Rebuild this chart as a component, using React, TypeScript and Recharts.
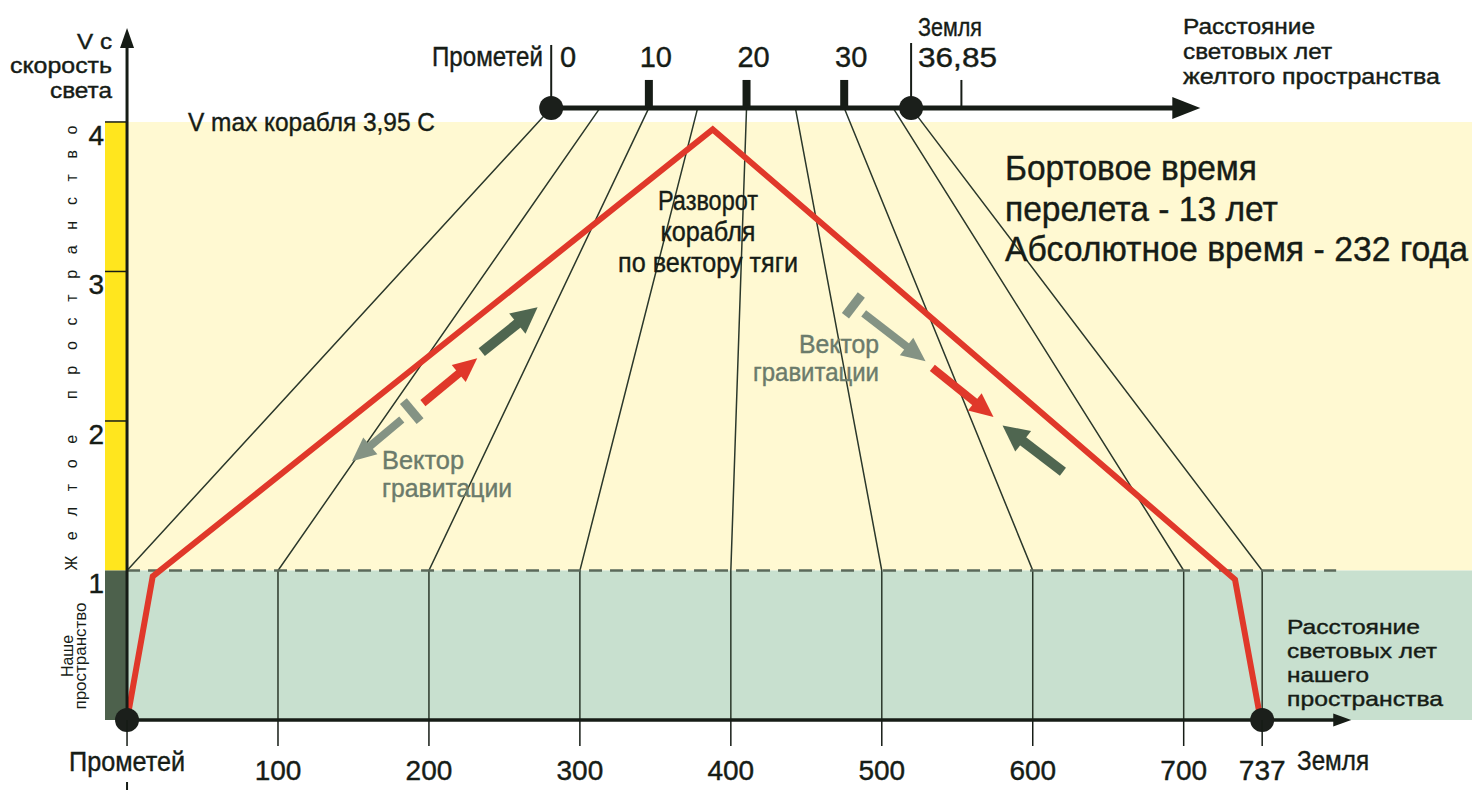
import { ComposedChart, Line, XAxis, YAxis, ReferenceArea, ReferenceLine, ReferenceDot } from 'recharts';

// bottom scale: light-years of our space (the diagram is not to scale near Earth)
const X_TICKS = [0, 100, 200, 300, 400, 500, 600, 700, 752];
const X_TICK_LABELS = ['Прометей', '100', '200', '300', '400', '500', '600', '700', '737'];
const Y_TICKS = [1, 2, 3, 4];

// top scale: light-years of yellow space
const TOP_TICKS = [10, 20, 30];
const TOP_MINOR = [42];
const TOP_FAN = [0, 5, 10, 15, 20, 25, 30, 35, 36.85];
const BOTTOM_FAN = [0, 100, 200, 300, 400, 500, 600, 700, 752];

// ship speed (in c) along the route
const SHIP_X = [0, 17, 388, 734, 751];
const SHIP_V = [0, 0.96, 3.95, 0.94, 0];

// vectors drawn on the diagram: [x1, v1, x2, v2]
const THRUST_VECTORS = [[196, 2.12, 232, 2.42], [533.5, 2.355, 574, 2.027]];
const FIELD_VECTORS = [[235, 2.46, 272, 2.76], [620, 1.66, 580, 1.97]];
const GRAVITY_VECTORS = [[182, 2.01, 149, 1.73], [488, 2.72, 529, 2.4]];

const X_DOMAIN: [number, number] = [-14.6, 891];
const Y_DOMAIN: [number, number] = [0, 4.682];
const TOP_Y = 4.094;
const TOP_X0 = 281;
const TOP_K = 6.47;
const topX = (t: number) => TOP_X0 + TOP_K * t;

const INK = '#161c16';
const VEC = '#6b7b6b';
const FONT = '"Liberation Sans", Arial, Helvetica, sans-serif';

function arrow(color: string, width: number, head: number, headW: number, bar = 0) {
  return (p: any) => {
    const x1 = +p.x1, y1 = +p.y1, x2 = +p.x2, y2 = +p.y2;
    const len = Math.hypot(x2 - x1, y2 - y1) || 1;
    const ux = (x2 - x1) / len, uy = (y2 - y1) / len;
    const nx = -uy, ny = ux;
    const bx = x2 - ux * head, by = y2 - uy * head;
    const cx = x1 - ux * bar, cy = y1 - uy * bar;
    return (
      <g>
        <line x1={x1} y1={y1} x2={bx + ux} y2={by + uy} stroke={color} strokeWidth={width} />
        <polygon
          points={`${x2},${y2} ${bx + (nx * headW) / 2},${by + (ny * headW) / 2} ${bx - (nx * headW) / 2},${by - (ny * headW) / 2}`}
          fill={color}
        />
        {bar > 0 && (
          <line x1={cx + nx * 13} y1={cy + ny * 13} x2={cx - nx * 13} y2={cy - ny * 13} stroke={color} strokeWidth={9} />
        )}
      </g>
    );
  };
}

function BottomTick(p: any) {
  const i = X_TICKS.indexOf(p.payload.value);
  const word = i === 0;
  const { x, y } = p;
  return (
    <g>
      <line x1={x} y1={y} x2={x} y2={y + 26} stroke={INK} strokeWidth={1.5} />
      {word && <line x1={x} y1={y + 62} x2={x} y2={y + 70} stroke={INK} strokeWidth={2} />}
      <text
        x={x}
        y={y + (word ? 51 : 60)}
        textAnchor="middle"
        fontSize={28}
        fill={INK}
        stroke={INK}
        strokeWidth={0.4}
        fontFamily={FONT}
        textLength={word ? 116 : undefined}
        lengthAdjust={word ? 'spacingAndGlyphs' : undefined}
      >
        {X_TICK_LABELS[i]}
      </text>
    </g>
  );
}

function LeftTick(p: any) {
  return (
    <text x={p.x - 1} y={p.y + 23} textAnchor="end" fontSize={28} fill={INK} stroke={INK} strokeWidth={0.4} fontFamily={FONT}>
      {p.payload.value}
    </text>
  );
}

function T({ x, y, s, w, anchor = 'start', fill = INK, children }: any) {
  return (
    <text
      x={x}
      y={y}
      fontSize={s}
      textAnchor={anchor}
      fill={fill}
      stroke={fill}
      strokeWidth={0.4}
      fontFamily={FONT}
      textLength={w}
      lengthAdjust={w ? 'spacingAndGlyphs' : undefined}
    >
      {children}
    </text>
  );
}

export default function App() {
  const fans = TOP_FAN.map((t, i) => [
    { x: topX(t), y: TOP_Y },
    { x: BOTTOM_FAN[i], y: 1 },
    { x: BOTTOM_FAN[i], y: 0 },
  ]);
  const ship = SHIP_X.map((x, i) => ({ x, y: SHIP_V[i] }));
  const seg = (v: number[]) => [{ x: v[0], y: v[1] }, { x: v[2], y: v[3] }];

  return (
    <div style={{ position: 'absolute', left: 0, top: 0, width: 1484, height: 790, background: '#fff' }}>
      <ComposedChart width={1484} height={790} margin={{ top: 20, right: 12, bottom: 0, left: 0 }}>
        <XAxis
          type="number"
          dataKey="x"
          domain={X_DOMAIN}
          ticks={X_TICKS}
          interval={0}
          allowDataOverflow
          height={70}
          axisLine={false}
          tickLine={false}
          tickSize={0}
          tickMargin={0}
          tick={(p: any) => <BottomTick {...p} />}
        />
        <YAxis
          type="number"
          dataKey="y"
          domain={Y_DOMAIN}
          ticks={Y_TICKS}
          interval={0}
          allowDataOverflow
          width={105}
          axisLine={false}
          tickLine={false}
          tickSize={0}
          tickMargin={0}
          tick={(p: any) => <LeftTick {...p} />}
        />

        {/* spaces */}
        <ReferenceArea x1={0} x2={X_DOMAIN[1]} y1={1} y2={4} fill="#fff9d2" fillOpacity={1} stroke="none" />
        <ReferenceArea x1={0} x2={X_DOMAIN[1]} y1={0} y2={1} fill="#c8e0cf" fillOpacity={1} stroke="none" />
        <ReferenceArea x1={X_DOMAIN[0]} x2={0} y1={1} y2={4} fill="#ffe61e" fillOpacity={1} stroke="none" />
        <ReferenceArea x1={X_DOMAIN[0]} x2={0} y1={0} y2={1} fill="#4d614c" fillOpacity={1} stroke="none" />

        {/* lines connecting both distance scales */}
        {fans.map((f, i) => (
          <Line
            key={i}
            data={f}
            dataKey="y"
            type="linear"
            stroke="#2b382b"
            strokeWidth={1.5}
            dot={false}
            activeDot={false}
            isAnimationActive={false}
          />
        ))}

        <ReferenceLine
          segment={[{ x: 0, y: 1 }, { x: 801, y: 1 }]}
          stroke="#5b695b"
          strokeWidth={2.5}
          strokeDasharray="13 8"
        />
        {[2, 3, 4].map((v) => (
          <ReferenceLine key={v} segment={[{ x: X_DOMAIN[0], y: v }, { x: 0, y: v }]} stroke={INK} strokeWidth={1.5} />
        ))}

        {/* ship speed */}
        <Line
          data={ship}
          dataKey="y"
          type="linear"
          stroke="#e0382a"
          strokeWidth={6}
          strokeLinejoin="miter"
          dot={false}
          activeDot={false}
          isAnimationActive={false}
        />

        {/* axes */}
        <ReferenceLine segment={[{ x: 0, y: 0 }, { x: 0, y: 4.629 }]} shape={arrow(INK, 3, 20, 14)} />
        <ReferenceLine segment={[{ x: 0, y: 0 }, { x: 811, y: 0 }]} shape={arrow(INK, 3.5, 18, 13)} />
        <ReferenceLine segment={[{ x: topX(0), y: TOP_Y }, { x: 711, y: TOP_Y }]} shape={arrow(INK, 5, 28, 22)} />
        <ReferenceLine segment={[{ x: topX(0), y: TOP_Y }, { x: topX(0), y: 4.515 }]} stroke={INK} strokeWidth={2} />
        <ReferenceLine segment={[{ x: topX(36.85), y: TOP_Y }, { x: topX(36.85), y: 4.528 }]} stroke={INK} strokeWidth={2} />
        {TOP_TICKS.map((t) => (
          <ReferenceLine
            key={t}
            segment={[{ x: topX(t), y: TOP_Y }, { x: topX(t), y: 4.281 }]}
            stroke={INK}
            strokeWidth={8}
            label={{ value: String(t), position: 'top', offset: 13, fontSize: 29, fill: INK, stroke: INK, strokeWidth: 0.4, fontFamily: FONT, dx: 7 }}
          />
        ))}
        {TOP_MINOR.map((t) => (
          <ReferenceLine key={t} segment={[{ x: topX(t), y: TOP_Y }, { x: topX(t), y: 4.281 }]} stroke={INK} strokeWidth={2} />
        ))}

        {/* vectors */}
        {FIELD_VECTORS.map((v, i) => (
          <ReferenceLine key={'f' + i} segment={seg(v)} shape={arrow('#4f6650', 10, 26, 26)} />
        ))}
        {THRUST_VECTORS.map((v, i) => (
          <ReferenceLine key={'t' + i} segment={seg(v)} shape={arrow('#e0382a', 8, 24, 22)} />
        ))}
        {GRAVITY_VECTORS.map((v, i) => (
          <ReferenceLine key={'g' + i} segment={seg(v)} shape={arrow('#849384', 8, 24, 22, 13)} />
        ))}

        {/* Prometheus and Earth */}
        <ReferenceDot x={topX(0)} y={TOP_Y} r={12} fill="#1b1f1b" stroke="none" />
        <ReferenceDot x={topX(36.85)} y={TOP_Y} r={12} fill="#1b1f1b" stroke="none" />
        <ReferenceDot x={0} y={0} r={12} fill="#1b1f1b" stroke="none" />
        <ReferenceDot x={752} y={0} r={12} fill="#1b1f1b" stroke="none" />
      </ComposedChart>

      <svg width={1484} height={790} style={{ position: 'absolute', left: 0, top: 0, pointerEvents: 'none' }}>
        <T x={112} y={49} s={22} w={35} anchor="end">V c</T>
        <T x={112} y={73} s={22} w={102} anchor="end">скорость</T>
        <T x={112} y={97.7} s={22} w={62} anchor="end">света</T>
        <T x={188} y={131} s={26} w={247}>V max корабля 3,95 С</T>

        <T x={432} y={66} s={28} w={111}>Прометей</T>
        <T x={560} y={67} s={29}>0</T>
        <T x={918} y={36} s={26} w={64}>Земля</T>
        <T x={918} y={67} s={28} w={79}>36,85</T>

        <T x={1183} y={34} s={22} w={132}>Расстояние</T>
        <T x={1183} y={59} s={22} w={149}>световых лет</T>
        <T x={1183} y={84} s={22} w={257}>желтого пространства</T>

        <T x={1005} y={180} s={35} w={252}>Бортовое время</T>
        <T x={1005} y={221} s={35} w={273}>перелета - 13 лет</T>
        <T x={1005} y={261} s={35} w={463}>Абсолютное время - 232 года</T>

        <T x={708} y={210} s={27} w={100} anchor="middle">Разворот</T>
        <T x={708} y={241} s={27} w={95} anchor="middle">корабля</T>
        <T x={708} y={272} s={27} w={180} anchor="middle">по вектору тяги</T>

        <T x={382} y={469} s={25} w={82} fill={VEC}>Вектор</T>
        <T x={382} y={497} s={25} w={130} fill={VEC}>гравитации</T>
        <T x={879} y={353} s={25} w={80} fill={VEC} anchor="end">Вектор</T>
        <T x={879} y={381} s={25} w={126} fill={VEC} anchor="end">гравитации</T>

        <T x={1287} y={634} s={21} w={133}>Расстояние</T>
        <T x={1287} y={658} s={21} w={150}>световых лет</T>
        <T x={1287} y={682} s={21} w={82}>нашего</T>
        <T x={1287} y={706} s={21} w={156}>пространства</T>
        <T x={1297} y={770} s={28} w={72}>Земля</T>

        <text
          x={77}
          y={348}
          transform="rotate(-90 77 348)"
          textAnchor="middle"
          fontSize={16}
          fill={INK}
          fontFamily={FONT}
          textLength={445}
          lengthAdjust="spacing"
        >
          Желтое пространство
        </text>
        <text x={73} y={656} transform="rotate(-90 73 656)" textAnchor="middle" fontSize={17} fill={INK} fontFamily={FONT} textLength={42} lengthAdjust="spacingAndGlyphs">
          Наше
        </text>
        <text x={86} y={656} transform="rotate(-90 86 656)" textAnchor="middle" fontSize={17} fill={INK} fontFamily={FONT} textLength={107} lengthAdjust="spacingAndGlyphs">
          пространство
        </text>
      </svg>
    </div>
  );
}
